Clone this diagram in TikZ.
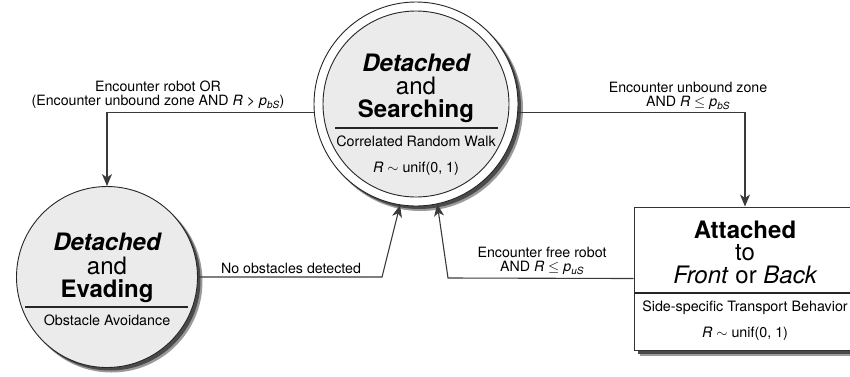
\documentclass[tikz,border=0pt]{standalone}
\usepackage{fontspec}
\setmainfont{TeX Gyre Heros}
\usetikzlibrary{arrows.meta}
\definecolor{facegray}{HTML}{EBEBEB}
\definecolor{shadowgray}{HTML}{4A4A4A}
\definecolor{softshadow}{HTML}{9A9A9A}
\definecolor{linegray}{HTML}{3A3A3A}
\begin{document}
\begin{tikzpicture}[x=1pt,y=-1pt,
  conn/.style={draw=linegray, line width=1.1pt,
    -{Stealth[length=12pt,width=10pt,inset=3.5pt]}},
  ring/.style={circle, draw=black!85, line width=0.9pt, fill=white, inner sep=0pt},
  face/.style={circle, draw=black!85, line width=0.9pt, fill=facegray, inner sep=0pt},
  boxstate/.style={rectangle, draw=black!80, line width=1pt, fill=white, inner sep=0pt},
  divider/.style={draw=black!85, line width=1.2pt},
  title/.style={anchor=base, inner sep=0pt, font=\fontsize{24}{23}\selectfont},
  sub/.style={anchor=base, inner sep=0pt, font=\fontsize{14.3}{16}\selectfont},
  lbl/.style={inner sep=0pt, align=center, font=\fontsize{14.2}{13.8}\selectfont}]
\useasboundingbox (0,0) rectangle (850,376);

% drop shadows behind the three states
\fill[softshadow] (420.5,108.5) circle[radius=102.5pt];
\fill[shadowgray] (419,107) circle[radius=102pt];
\fill[softshadow] (111.5,281.5) circle[radius=91pt];
\fill[shadowgray] (110,280) circle[radius=90.5pt];
\fill[softshadow] (640,213) rectangle (862,355.5);
\fill[shadowgray] (638,211) rectangle (860,354);

% states
\node[ring, minimum size=204pt] (search) at (416,104) {};
\node[face, minimum size=186pt] (searchface) at (416,104) {};
\node[face, minimum size=181pt] (evade) at (107,277) {};
\node[boxstate, minimum width=222pt, minimum height=143pt] (attach) at (745,278.5) {};

% Detached and Searching
\node[title] (s1) at (416,71) {\bfseries\itshape Detached};
\node[title] (s2) at (416,94) {and};
\node[title] (s3) at (416,117) {\bfseries Searching};
\draw[divider] (335,128) coordinate (sdl) -- (498,128) coordinate (sdr);
\node[sub] (s4) at (416,146) {Correlated Random Walk};
\node[sub] (s5) at (416,172) {\textit{R} $\sim$ unif(0, 1)};

% Detached and Evading
\node[title] (e1) at (107,250) {\bfseries\itshape Detached};
\node[title] (e2) at (107,274) {and};
\node[title] (e3) at (107,297) {\bfseries Evading};
\draw[divider] (25,307) coordinate (edl) -- (188,307) coordinate (edr);
\node[sub] (e4) at (107,325) {Obstacle Avoidance};

% Attached to Front or Back
\node[title] (a1) at (745,238) {\bfseries Attached};
\node[title] (a2) at (745,260) {to};
\node[title] (a3) at (745,283) {\itshape Front\/ \upshape or \itshape Back};
\draw[divider] (634,293) coordinate (adl) -- (856,293) coordinate (adr);
\node[sub] (a4) at (745,311) {Side-specific Transport Behavior};
\node[sub] (a5) at (745,337) {\textit{R} $\sim$ unif(0, 1)};

% transitions
\coordinate (bendL) at (382,277);
\coordinate (bendR) at (448,278);
\draw[conn] (search.185) -| (evade.north);
\draw[conn] (search.355) -| (attach.north);
\draw[conn] (evade.east) -- (bendL) -- (search.261);
\draw[conn] (attach.west) -- (bendR) -- (search.282);

% transition labels
\node[lbl, anchor=south] (l1) at (158,109)
  {Encounter robot OR\\(Encounter unbound zone AND \textit{R} > \textit{p}\textsubscript{\textit{bS}})};
\node[lbl, anchor=south] (l2) at (688,110)
  {Encounter unbound zone\\AND \textit{R} $\le$ \textit{p}\textsubscript{\textit{bS}}};
\node[lbl, anchor=base] (l3) at (291,273) {No obstacles detected};
\node[lbl, anchor=south] (l4) at (542,275)
  {Encounter free robot\\AND \textit{R} $\le$ \textit{p}\textsubscript{\textit{uS}}};
\end{tikzpicture}
\end{document}
